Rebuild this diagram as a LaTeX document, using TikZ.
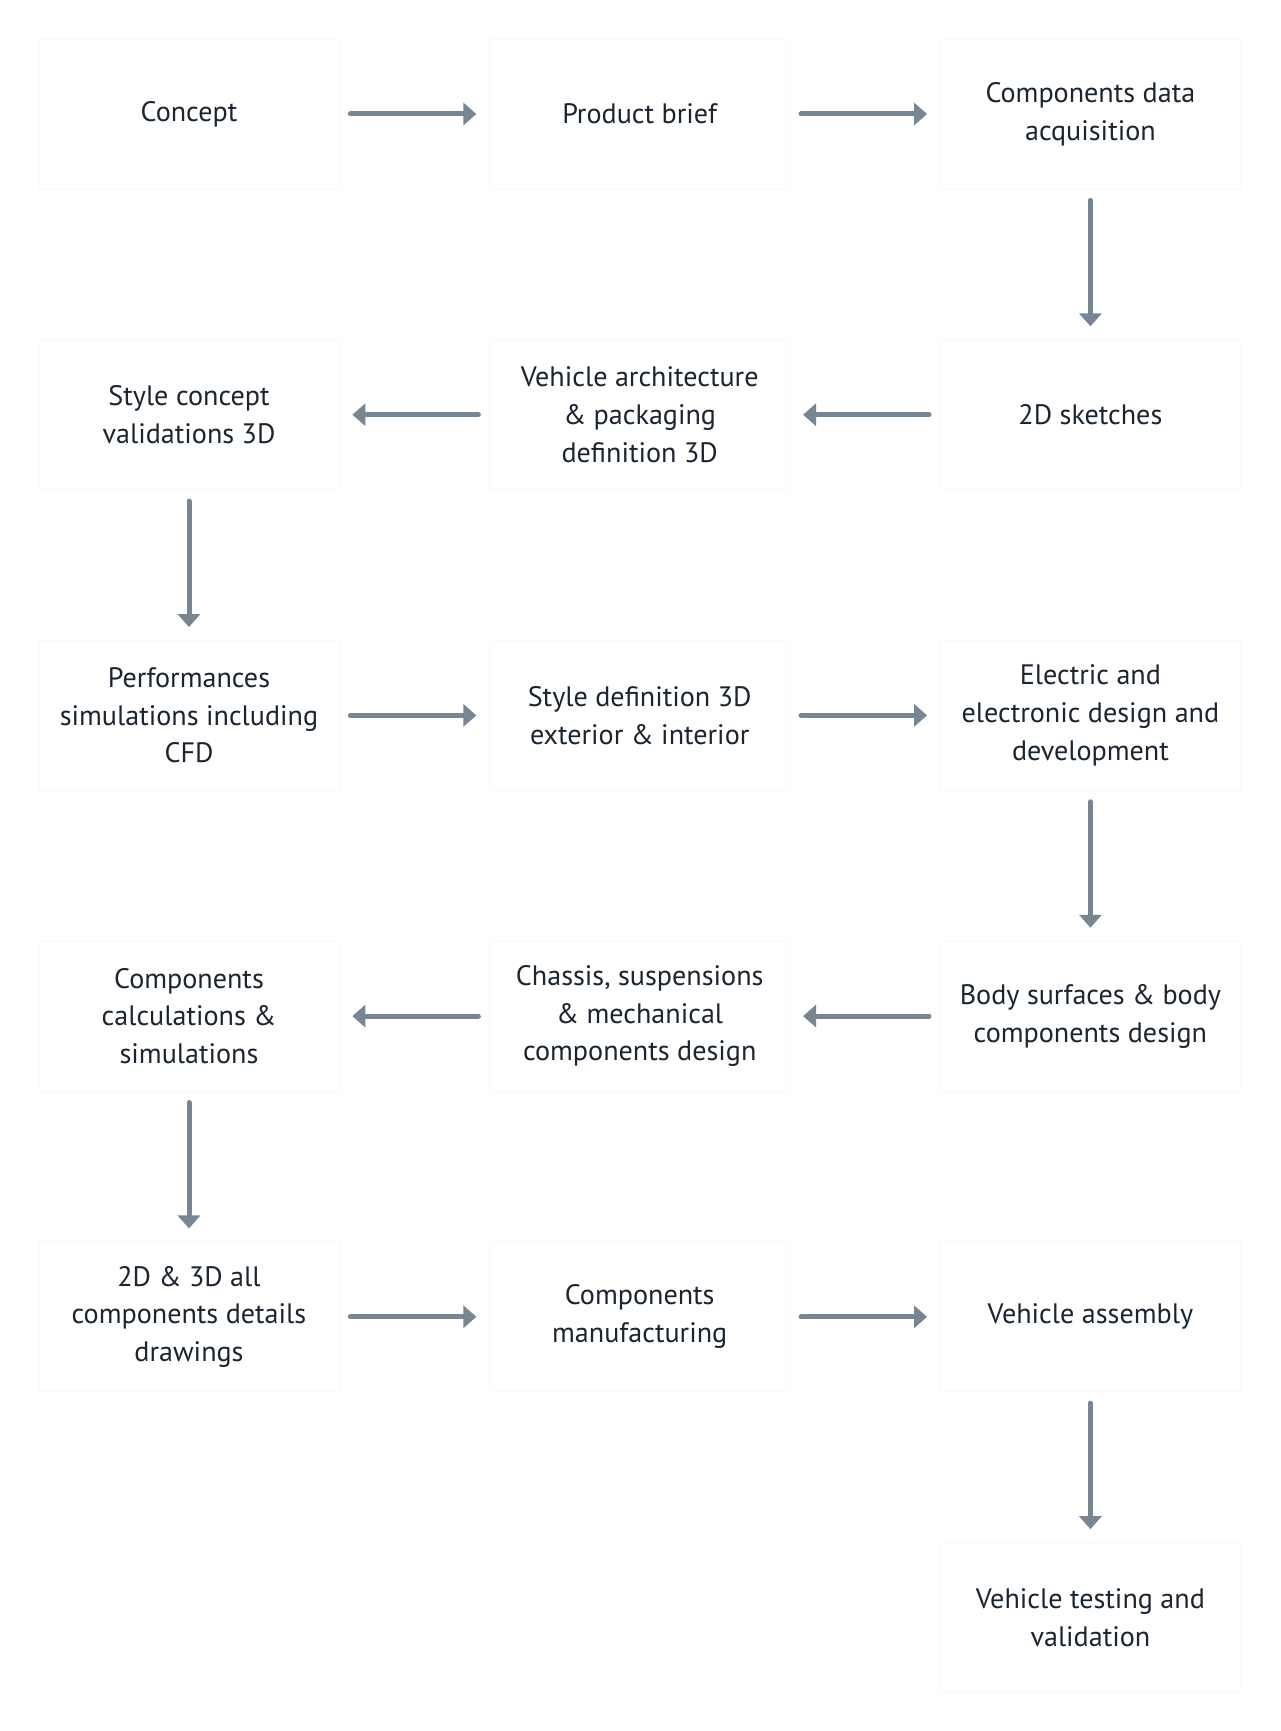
\documentclass[tikz,border=0pt]{standalone}
\usepackage{fontspec}
\setmainfont{PT Sans}
\usetikzlibrary{positioning,arrows.meta}
\definecolor{slate}{RGB}{120,133,147}
\definecolor{ink}{RGB}{26,37,48}
\begin{document}
\begin{tikzpicture}[
    node distance=3cm,
    block/.style={
        rectangle,
        draw=black!2.5,
        fill=white,
        minimum width=6cm,
        minimum height=3cm,
        align=center,
        text=ink,
        font=\fontsize{16}{21.5}\selectfont
    },
    line/.style={
        draw,
        -{Triangle[length=0.26cm,width=0.44cm]},
        line width=0.1cm,
        line cap=round,
        color=slate,
        shorten <=0.22cm,
        shorten >=0.26cm
    }
]
    \useasboundingbox[fill=white] (-3.78,2.28) rectangle (21.82,-32.34);

    % Components
    \node [block] (concept) {Concept};
    \node [block, right=of concept] (brief) {Product brief};
    \node [block, right=of brief] (data) {Components data\\acquisition};
    \node [block, below=of data] (sketches) {2D sketches};
    \node [block, left=of sketches] (archi) {Vehicle architecture\\\& packaging\\definition 3D};
    \node [block, left=of archi] (stylecheck) {Style concept\\validations 3D};
    \node [block, below=of stylecheck] (perf) {Performances\\simulations including\\CFD};
    \node [block, right=of perf] (styledef) {Style definition 3D\\exterior \& interior};
    \node [block, right=of styledef] (electric) {Electric and\\electronic design and\\development};
    \node [block, below=of electric] (body) {Body surfaces \& body\\components design};
    \node [block, left=of body] (chassis) {Chassis, suspensions\\\& mechanical\\components design};
    \node [block, left=of chassis] (calc) {Components\\calculations \&\\simulations};
    \node [block, below=of calc] (drawings) {2D \& 3D all\\components details\\drawings};
    \node [block, right=of drawings] (manuf) {Components\\manufacturing};
    \node [block, right=of manuf] (assembly) {Vehicle assembly};
    \node [block, below=of assembly] (testing) {Vehicle testing and\\validation};

    % Process flow
    \path [line] (concept) -- (brief);
    \path [line] (brief) -- (data);
    \path [line] (data) -- (sketches);
    \path [line] (sketches) -- (archi);
    \path [line] (archi) -- (stylecheck);
    \path [line] (stylecheck) -- (perf);
    \path [line] (perf) -- (styledef);
    \path [line] (styledef) -- (electric);
    \path [line] (electric) -- (body);
    \path [line] (body) -- (chassis);
    \path [line] (chassis) -- (calc);
    \path [line] (calc) -- (drawings);
    \path [line] (drawings) -- (manuf);
    \path [line] (manuf) -- (assembly);
    \path [line] (assembly) -- (testing);

\end{tikzpicture}
\end{document}
